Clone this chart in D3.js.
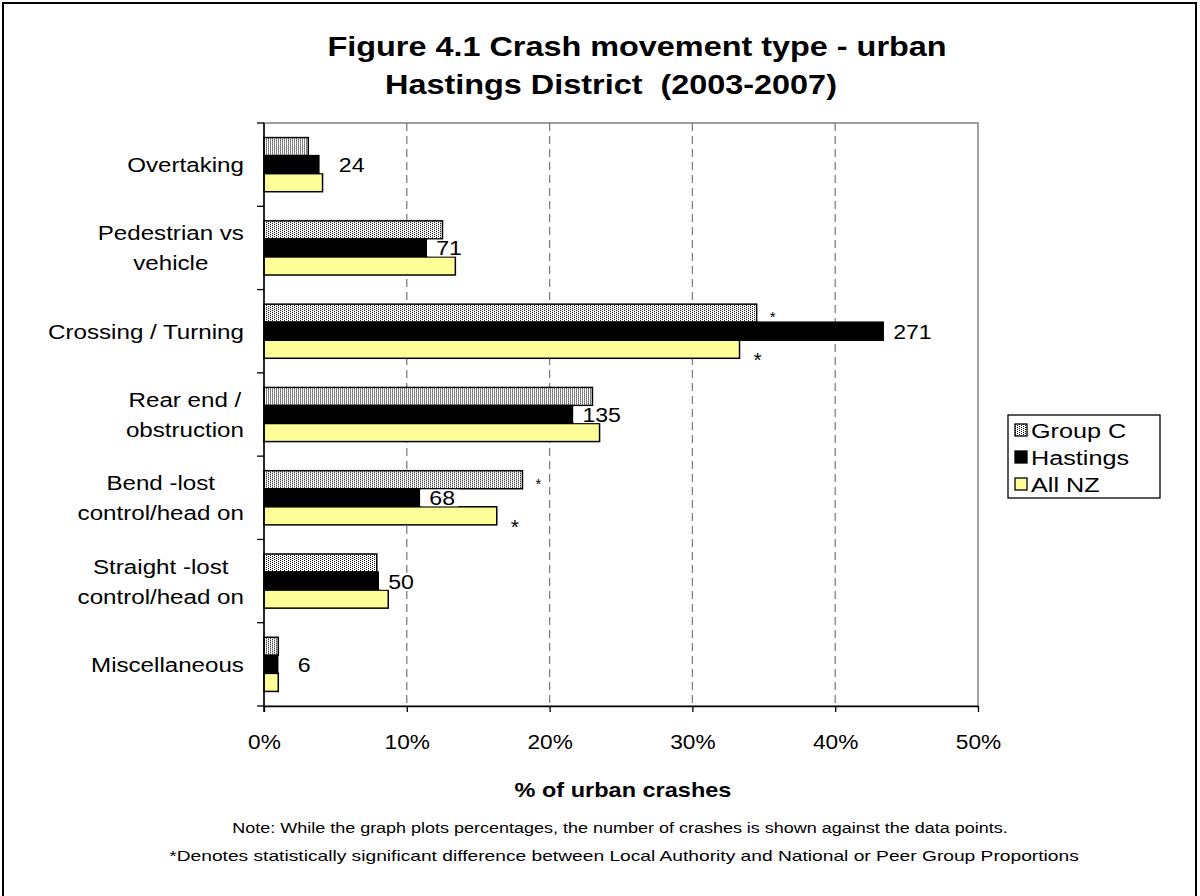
<!DOCTYPE html>
<html>
<head>
<meta charset="utf-8">
<script src="https://cdn.jsdelivr.net/npm/d3@7"></script>
<style>
  body { margin: 0; background: #fff; }
  svg text { font-family: "Liberation Sans", Arial, sans-serif; fill: #000; }
</style>
</head>
<body>
<svg id="chart" width="1200" height="896"></svg>
<script>
// Crash movement type - urban, Hastings District 2003-2007

const categories = [
    ['Overtaking'],
    ['Pedestrian vs', 'vehicle'],
    ['Crossing / Turning'],
    ['Rear end /', 'obstruction'],
    ['Bend -lost', 'control/head on'],
    ['Straight -lost', 'control/head on'],
    ['Miscellaneous']
];
const seriesNames = ['Group C', 'Hastings', 'All NZ'];
const groupC = [3.1, 12.5, 34.5, 23.0, 18.1, 7.9, 1.0];
const hastings = [3.84, 11.36, 43.36, 21.6, 10.88, 8.0, 0.96];
const allNZ = [4.1, 13.4, 33.3, 23.5, 16.3, 8.7, 1.0];
const hastingsCounts = [24, 71, 271, 135, 68, 50, 6];
const groupCSig = ['', '', '*', '', '*', '', ''];
const allNZSig = ['', '', '*', '', '*', '', ''];
const xTicks = [0, 10, 20, 30, 40, 50];

(function() {
    'use strict';

    const svg = d3.select('#chart');
    const plot = { left: 264, right: 978, top: 123, bottom: 706 };

    /**
     * Stretch a text horizontally around x = ax (the original font is wider)
     */
    function stretch(sel, ax, sx) {
        sel.attr('transform', `translate(${ax},0) scale(${sx},1) translate(${-ax},0)`);
    }

    // Outer chart border
    svg.append('rect')
        .attr('x', 3).attr('y', 3)
        .attr('width', 1193).attr('height', 910)
        .attr('fill', '#fff')
        .attr('stroke', '#000')
        .attr('stroke-width', 2);

    // Dotted pattern for Group C
    const defs = svg.append('defs');
    const pat = defs.append('pattern')
        .attr('id', 'dots')
        .attr('patternUnits', 'userSpaceOnUse')
        .attr('width', 4).attr('height', 2);
    pat.append('rect').attr('width', 4).attr('height', 2).attr('fill', '#fff');
    pat.append('rect').attr('x', 0).attr('y', 0).attr('width', 1).attr('height', 1).attr('fill', '#000');
    pat.append('rect').attr('x', 2).attr('y', 1).attr('width', 1).attr('height', 1).attr('fill', '#000');

    const fills = { 'Group C': 'url(#dots)', 'Hastings': '#000', 'All NZ': '#ffff99' };

    // Title
    const t1 = svg.append('text')
        .attr('x', 637).attr('y', 56)
        .attr('text-anchor', 'middle')
        .style('font-size', '27px')
        .style('font-weight', 'bold')
        .text('Figure 4.1 Crash movement type - urban');
    stretch(t1, 637, 1.2);
    const t2 = svg.append('text')
        .attr('x', 611).attr('y', 94)
        .attr('text-anchor', 'middle')
        .style('font-size', '27px')
        .style('font-weight', 'bold')
        .style('white-space', 'pre')
        .text('Hastings District  (2003-2007)');
    stretch(t2, 611, 1.2);

    // Scales
    const xScale = d3.scaleLinear().domain([0, 50]).range([plot.left, plot.right]);
    const yScale = d3.scaleBand()
        .domain(d3.range(categories.length))
        .range([plot.top, plot.bottom])
        .paddingInner(0.35)
        .paddingOuter(0.175);
    const sub = d3.scaleBand()
        .domain(seriesNames)
        .range([0, yScale.bandwidth()]);

    // Plot area border
    svg.append('rect')
        .attr('x', plot.left).attr('y', plot.top)
        .attr('width', plot.right - plot.left)
        .attr('height', plot.bottom - plot.top)
        .attr('fill', 'none')
        .attr('stroke', '#808080')
        .attr('stroke-width', 1.5);

    // Dashed grid lines
    svg.append('g')
        .selectAll('line')
        .data(xTicks.slice(1, -1))
        .enter()
        .append('line')
        .attr('x1', d => xScale(d)).attr('x2', d => xScale(d))
        .attr('y1', plot.top).attr('y2', plot.bottom)
        .attr('stroke', '#808080')
        .attr('stroke-width', 1.3)
        .attr('stroke-dasharray', '8,5');

    // Bars
    const rows = categories.map((c, i) => ({
        i: i,
        values: [
            { s: 'Group C', v: groupC[i] },
            { s: 'Hastings', v: hastings[i] },
            { s: 'All NZ', v: allNZ[i] }
        ]
    }));

    const rowG = svg.append('g').selectAll('g')
        .data(rows)
        .enter()
        .append('g')
        .attr('transform', d => `translate(0, ${yScale(d.i)})`);

    rowG.selectAll('rect')
        .data(d => d.values)
        .enter()
        .append('rect')
        .attr('x', xScale(0))
        .attr('y', d => sub(d.s))
        .attr('width', d => xScale(d.v) - xScale(0))
        .attr('height', sub.bandwidth())
        .attr('fill', d => fills[d.s])
        .attr('stroke', '#000')
        .attr('stroke-width', 1.5);

    // Count labels with white box next to the Hastings bar
    rowG.each(function(d) {
        const g = d3.select(this);
        const xEnd = xScale(hastings[d.i]);
        const yTop = sub('Hastings');
        const offset = hastings[d.i] < 5 ? 20 : 10;
        const sx = 1.1;
        const box = g.append('rect')
            .attr('fill', '#fff');
        const t = g.append('text')
            .attr('x', xEnd + offset)
            .attr('y', yTop + sub.bandwidth() / 2 + 7.5)
            .style('font-size', '21px')
            .text(hastingsCounts[d.i]);
        stretch(t, xEnd + offset, sx);
        const w = t.node().getComputedTextLength() * sx;
        box.attr('x', xEnd + 1.5)
            .attr('y', yTop + 0.8)
            .attr('width', offset - 1.5 + w + 3)
            .attr('height', sub.bandwidth() - 1.2);

        if (groupCSig[d.i]) {
            g.append('text')
                .attr('x', xScale(groupC[d.i]) + 13)
                .attr('y', sub('Group C') + 18)
                .style('font-size', '15px')
                .text(groupCSig[d.i]);
        }
        if (allNZSig[d.i]) {
            g.append('text')
                .attr('x', xScale(allNZ[d.i]) + 14)
                .attr('y', sub('All NZ') + 27)
                .style('font-size', '21px')
                .text(allNZSig[d.i]);
        }
    });

    // X axis
    const xAxis = svg.append('g')
        .attr('transform', `translate(0, ${plot.bottom})`)
        .call(d3.axisBottom(xScale).tickValues(xTicks).tickSize(6).tickSizeOuter(0).tickPadding(22)
            .tickFormat(d => d + '%'));
    xAxis.select('.domain').attr('stroke', '#000').attr('stroke-width', 1.5);
    xAxis.selectAll('line').attr('stroke', '#000').attr('stroke-width', 1.3);
    xAxis.selectAll('text')
        .style('font-size', '21px')
        .style('font-family', '"Liberation Sans", Arial, sans-serif')
        .attr('transform', 'scale(1.08,1)');

    // Y axis line with tick marks at category boundaries
    const yAxis = svg.append('g');
    yAxis.append('line')
        .attr('x1', plot.left).attr('x2', plot.left)
        .attr('y1', plot.top).attr('y2', plot.bottom + 6)
        .attr('stroke', '#000').attr('stroke-width', 1.5);
    const step = yScale.step();
    yAxis.selectAll('.ytick')
        .data(d3.range(categories.length + 1))
        .enter()
        .append('line')
        .attr('class', 'ytick')
        .attr('x1', plot.left - 7).attr('x2', plot.left)
        .attr('y1', i => plot.top + i * step)
        .attr('y2', i => plot.top + i * step)
        .attr('stroke', '#000').attr('stroke-width', 1.3);

    // Category labels: wrapped lines centred in a block right-aligned at the axis
    const labelSx = 1.15;
    categories.forEach((lines, i) => {
        const cy = yScale(i) + yScale.bandwidth() / 2;
        const t = svg.append('text')
            .attr('text-anchor', 'middle')
            .style('font-size', '21px');
        const lineH = 30;
        const spans = lines.map((ln, k) => t.append('tspan')
            .attr('y', cy + 7.5 + (k - (lines.length - 1) / 2) * lineH)
            .text(ln));
        const maxW = d3.max(spans, s => s.node().getComputedTextLength()) * labelSx;
        const cx = 244 - maxW / 2;
        spans.forEach(s => s.attr('x', cx));
        stretch(t, cx, labelSx);
    });

    // Axis title
    const at = svg.append('text')
        .attr('x', 623).attr('y', 797)
        .attr('text-anchor', 'middle')
        .style('font-size', '21px')
        .style('font-weight', 'bold')
        .text('% of urban crashes');
    stretch(at, 623, 1.12);

    // Notes
    const n1 = svg.append('text')
        .attr('x', 620).attr('y', 833)
        .attr('text-anchor', 'middle')
        .style('font-size', '15px')
        .text('Note: While the graph plots percentages, the number of crashes is shown against the data points.');
    stretch(n1, 620, 1.2);
    const n2 = svg.append('text')
        .attr('x', 624).attr('y', 861)
        .attr('text-anchor', 'middle')
        .style('font-size', '15px')
        .text('*Denotes statistically significant difference between Local Authority and National or Peer Group Proportions');
    stretch(n2, 624, 1.28);

    // Legend
    const legend = svg.append('g').attr('transform', 'translate(1008, 415)');
    legend.append('rect')
        .attr('width', 152).attr('height', 83)
        .attr('fill', '#fff')
        .attr('stroke', '#000')
        .attr('stroke-width', 1.3);
    const li = legend.selectAll('.li')
        .data(seriesNames)
        .enter()
        .append('g')
        .attr('class', 'li')
        .attr('transform', (d, i) => `translate(7, ${15 + i * 27})`);
    li.append('rect')
        .attr('width', 12).attr('height', 12)
        .attr('y', -6)
        .attr('fill', d => fills[d])
        .attr('stroke', '#000')
        .attr('stroke-width', 1.3);
    li.append('text')
        .attr('x', 16).attr('y', 7.5)
        .style('font-size', '21px')
        .text(d => d)
        .attr('transform', 'translate(16,0) scale(1.2,1) translate(-16,0)');
})();
</script>
</body>
</html>
